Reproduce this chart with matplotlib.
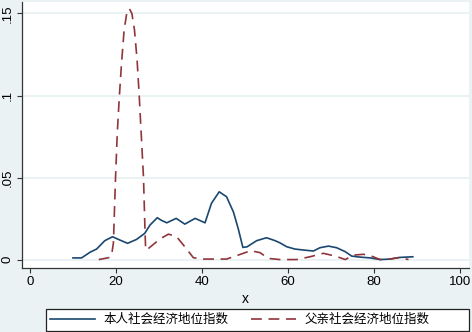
import matplotlib
matplotlib.use("Agg")
import matplotlib.pyplot as plt
from matplotlib.patches import Rectangle

plt.rcParams['font.family'] = ['Liberation Sans', 'Noto Sans CJK SC', 'DejaVu Sans']

# kernel density of own SEI (solid) and father's SEI (dashed)
self_x = [10, 12, 14, 15.5, 17.4, 19.2, 20.9, 22.7, 24.8, 26.7, 27.9, 29.6, 30.5, 31.8,
          34.0, 36.0, 38.4, 40.7, 42.2, 44.0, 45.7, 47.3, 48.4, 49.5, 50.5, 52.7, 55.0,
          57.0, 58.1, 59.7, 61.6, 63.6, 65.9, 67.4, 69.4, 71.3, 73.3, 74.8, 76.7, 79.1,
          81.4, 83.7, 86.0, 89.0]
self_y = [0.0010, 0.0010, 0.0045, 0.0064, 0.0115, 0.0139, 0.0119, 0.0099, 0.0123, 0.0160,
          0.0210, 0.0255, 0.0240, 0.0224, 0.0251, 0.0216, 0.0251, 0.0224, 0.0343, 0.0413,
          0.0383, 0.0290, 0.0190, 0.0074, 0.0078, 0.0115, 0.0133, 0.0115, 0.0102, 0.0078,
          0.0064, 0.0058, 0.0052, 0.0072, 0.0082, 0.0072, 0.0048, 0.0021, 0.0015, 0.0010,
          0.0000, 0.0003, 0.0013, 0.0017]

father_x = [16.0, 18.6, 19.0, 19.4, 19.9, 20.3, 20.8, 21.3, 21.9, 22.5, 23.1, 23.7, 24.3,
            24.9, 25.4, 25.9, 26.4, 26.7, 26.9, 27.2, 30.2, 32.2, 34.1, 36.0, 38.0, 40.3,
            45.7, 48.4, 51.3, 53.5, 55.4, 58.1, 62.0, 65.1, 68.2, 71.0, 73.3, 75.2, 77.5,
            79.1, 81.4, 83.7, 86.0, 88.0]
father_y = [0.0, 0.0013, 0.003, 0.010, 0.050, 0.077, 0.100, 0.120, 0.140, 0.150, 0.153,
            0.150, 0.140, 0.122, 0.100, 0.075, 0.050, 0.022, 0.006, 0.006, 0.0125, 0.0155,
            0.0139, 0.0078, 0.0011, 0.0003, 0.0003, 0.0027, 0.0054, 0.0042, 0.0007, 0.0,
            0.0, 0.0017, 0.0038, 0.0021, 0.0, 0.0027, 0.0032, 0.0024, 0.0, 0.0003, 0.0013,
            0.0]

labels = ["本人社会经济地位指数", "父亲社会经济地位指数"]
xticks = [0, 20, 40, 60, 80, 100]
yticks = [0, 0.05, 0.1, 0.15]
ytick_labels = ["0", ".05", ".1", ".15"]

bg = '#eaf2f3'
fig = plt.figure(figsize=(4.72, 3.32), dpi=100, facecolor=bg)
ax = fig.add_axes([0.047, 0.194, 0.947, 0.800])
ax.set_facecolor('white')

ax.plot(self_x, self_y, color='#1a476f', lw=1.2, label=labels[0])
ax.plot(father_x, father_y, color='#90353b', lw=1.2, dashes=(6.5, 4), label=labels[1])

ax.set_xlim(-1.8, 102.1)
ax.set_ylim(-0.0049, 0.157)
ax.set_xticks(xticks)
ax.set_yticks(yticks)
ax.set_yticklabels(ytick_labels, rotation=90, va='center')
ax.tick_params(axis='both', labelsize=9.5, length=3.5, color='#333333', pad=2.5)
ax.grid(axis='y', color=bg, lw=1.4)
ax.set_axisbelow(True)
for s in ['top', 'right']:
    ax.spines[s].set_visible(False)
for s in ['left', 'bottom']:
    ax.spines[s].set_color('#333333')
    ax.spines[s].set_linewidth(0.9)
ax.set_xlabel("x", fontsize=10, labelpad=3)

# legend box at the bottom
fig.patches.append(Rectangle((0.097, 0.003), 0.897, 0.066, transform=fig.transFigure,
                             facecolor='white', edgecolor='#222222', lw=0.9))
fig.legend(loc='center left', bbox_to_anchor=(0.106, 0.036), ncol=2, frameon=False,
           fontsize=9, handlelength=3.6, handletextpad=0.7, columnspacing=1.8,
           borderpad=0, borderaxespad=0)

fig.savefig("out.png", dpi=100, facecolor=bg)
